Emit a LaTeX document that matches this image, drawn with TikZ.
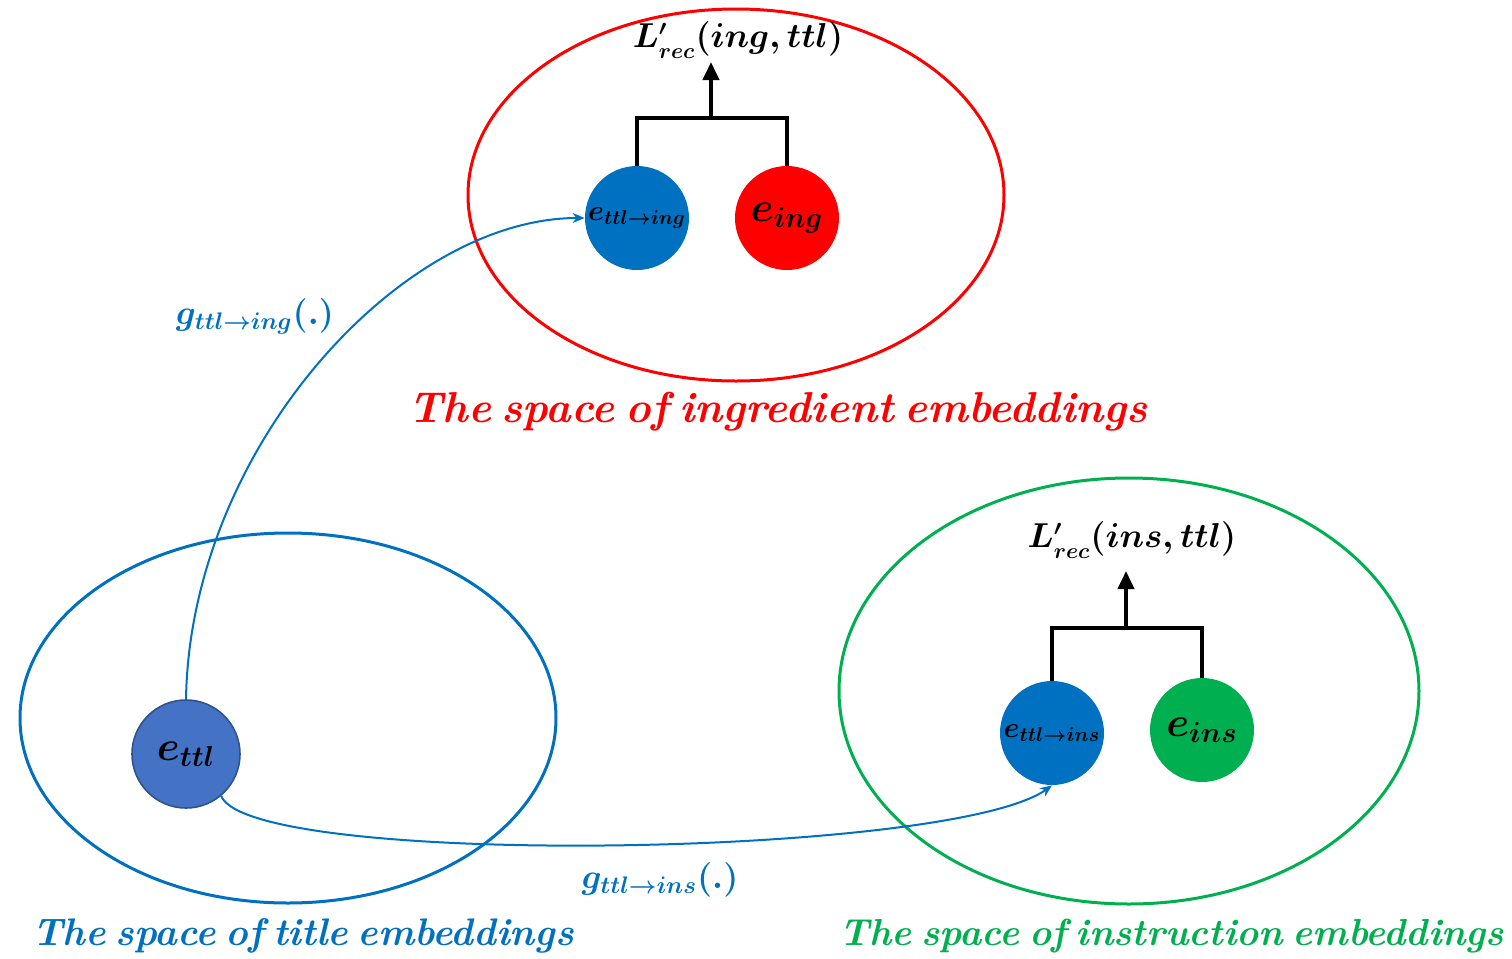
\documentclass[tikz,border=0pt]{standalone}
\usepackage{amsmath,bm}
\usetikzlibrary{shapes.geometric,arrows.meta}
\definecolor{myblue}{RGB}{0,112,192}
\definecolor{titleblue}{RGB}{68,114,196}
\definecolor{titleborder}{RGB}{47,82,143}
\definecolor{myred}{RGB}{255,0,0}
\definecolor{mygreen}{RGB}{0,176,80}
\newcommand{\tightwords}{\spaceskip=0.25em\relax}
\begin{document}
\begin{tikzpicture}[x=0.5pt,y=-0.5pt,
 space/.style={ellipse,draw,line width=1.5pt,inner sep=0pt},
 emb/.style={circle,minimum size=52pt,inner sep=0pt,text=black},
 conn/.style={line width=2pt,black},
 loss/.style={-{Triangle[width=8pt,length=9pt]},line width=2pt,black},
 mapping/.style={myblue,line width=1pt,-{Stealth[length=6pt,width=5pt]}},
 caption/.style={font=\fontsize{#1}{#1}\selectfont\bfseries\itshape\tightwords},
 lossl/.style={font=\fontsize{16}{19}\selectfont\boldmath},
 mapl/.style={font=\fontsize{18}{21}\selectfont\boldmath,text=myblue},
]
\useasboundingbox (0,0) rectangle (1512,959);
% spaces
\node[space,draw=myred,minimum width=268pt,minimum height=186pt] (ingsp) at (736,195) {};
\node[space,draw=myblue,minimum width=268pt,minimum height=185pt] (ttlsp) at (288,718) {};
\node[space,draw=mygreen,minimum width=290pt,minimum height=213pt] (inssp) at (1129,691) {};
% embeddings
\node[emb,fill=myblue,font=\fontsize{14}{16}\selectfont\boldmath] (ettling) at (637,218) {$e_{ttl\rightarrow ing}$};
\node[emb,fill=myred,font=\fontsize{20}{22}\selectfont\boldmath] (eing) at (787,218) {$e_{ing}$};
\node[emb,fill=titleblue,draw=titleborder,line width=0.8pt,minimum size=54pt,font=\fontsize{20}{22}\selectfont\boldmath] (ettl) at (186,754) {$e_{ttl}$};
\node[emb,fill=myblue,font=\fontsize{14}{16}\selectfont\boldmath] (ettlins) at (1052,733) {$e_{ttl\rightarrow ins}$};
\node[emb,fill=mygreen,font=\fontsize{20}{22}\selectfont\boldmath] (eins) at (1202,730) {$e_{ins}$};
% loss labels
\node[lossl] (lossing) at (738,40) {$L'_{rec}(ing,ttl)$};
\node[lossl] (lossins) at (1132,540) {$L'_{rec}(ins,ttl)$};
% joins
\coordinate (ingjoin) at (711,118);
\coordinate (insjoin) at (1126,628);
\coordinate (ingtip) at (711,62);
\coordinate (instip) at (1126,571);
\draw[conn] (ettling.north) |- (ingjoin) -| (eing.north);
\draw[loss] (ingjoin) -- (ingtip);
\draw[conn] (ettlins.north) |- (insjoin) -| (eins.north);
\draw[loss] (insjoin) -- (instip);
% mappings
\draw[mapping] (ettl.north) .. controls (190,450) and (400,218) .. (ettling.west);
\draw[mapping] (ettl.-50) .. controls (250,868) and (950,858) .. (ettlins.south);
\node[mapl] (gling) at (255,316) {$g_{ttl\rightarrow ing}(.)$};
\node[mapl] (glins) at (660,880) {$g_{ttl\rightarrow ins}(.)$};
% captions
\node[caption=21.6,text=myred] (caping) at (778,412) {The space of ingredient embeddings};
\node[caption=19.2,text=myblue] (capttl) at (303,936) {The space of title embeddings};
\node[caption=18.8,text=mygreen] (capins) at (1172,936) {The space of instruction embeddings};
\end{tikzpicture}
\end{document}
